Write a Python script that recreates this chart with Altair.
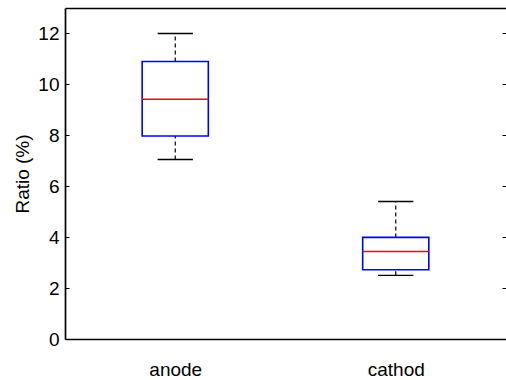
import altair as alt
import pandas as pd

categories = ["anode", "cathod"]
positions = [1, 2]
whisker_low = [7.05, 2.50]
q1 = [7.97, 2.72]
median = [9.42, 3.44]
q3 = [10.90, 3.99]
whisker_high = [12.0, 5.40]

y_ticks = [0, 2, 4, 6, 8, 10, 12]

df = pd.DataFrame({
    "cat": categories,
    "pos": positions,
    "lo": whisker_low,
    "q1": q1,
    "med": median,
    "q3": q3,
    "hi": whisker_high,
})

FONT = "Liberation Sans"
FS = 19
label_expr = " : ".join(
    [f"datum.value == {p} ? '{c}'" for p, c in zip(positions, categories)] + ["''"]
)

xscale = alt.Scale(domain=[0.5, 2.5], nice=False, zero=False)
yscale = alt.Scale(domain=[0, 13], nice=False)

base = alt.Chart(df).transform_calculate(
    bx1="datum.pos - 0.15", bx2="datum.pos + 0.15",
    cx1="datum.pos - 0.08", cx2="datum.pos + 0.08",
)

# box (bottom x axis with labels, left y axis with labels)
box = base.mark_rect(fill="white", stroke="#0000ff", strokeWidth=1.6).encode(
    x=alt.X("bx1:Q", scale=xscale, axis=alt.Axis(
        orient="bottom", values=positions, labelExpr=label_expr, title=None,
        ticks=False, grid=False, domain=True, domainColor="black", domainWidth=1.7,
        labelFont=FONT, labelFontSize=FS, labelColor="black", labelPadding=21,
    )),
    x2="bx2:Q",
    y=alt.Y("q1:Q", scale=yscale, axis=alt.Axis(
        orient="left", values=y_ticks, title="Ratio (%)", ticks=False, grid=False,
        domain=True, domainColor="black", domainWidth=1.7,
        labelFont=FONT, labelFontSize=FS, labelColor="black", labelPadding=6,
        titleFont=FONT, titleFontSize=FS, titleColor="black", titleFontWeight="normal",
        titlePadding=5,
    )),
    y2="q3:Q",
)

# median (top x axis as border, right y axis inward ticks)
med = base.mark_rule(color="#ff0000", strokeWidth=1.5).encode(
    x=alt.X("bx1:Q", scale=xscale, axis=alt.Axis(
        orient="top", labels=False, ticks=False, grid=False, title=None,
        domain=True, domainColor="black", domainWidth=1.7,
    )),
    x2="bx2:Q",
    y=alt.Y("med:Q", scale=yscale, axis=alt.Axis(
        orient="right", values=y_ticks, labels=False, domain=False, grid=False,
        ticks=True, tickSize=4, tickColor="black", tickWidth=1, offset=-4, title=None,
    )),
)

# whiskers dashed (left y axis inward ticks)
wh_hi = base.mark_rule(color="black", strokeDash=[4, 3], strokeWidth=1.2).encode(
    x=alt.X("pos:Q", scale=xscale, axis=None),
    y=alt.Y("q3:Q", scale=yscale, axis=alt.Axis(
        orient="left", values=y_ticks, labels=False, domain=False, grid=False,
        ticks=True, tickSize=4, tickColor="black", tickWidth=1, offset=-4, title=None,
    )),
    y2="hi:Q",
)
wh_lo = base.mark_rule(color="black", strokeDash=[4, 3], strokeWidth=1.2).encode(
    x=alt.X("pos:Q", scale=xscale, axis=None),
    y=alt.Y("lo:Q", scale=yscale, axis=None),
    y2="q1:Q",
)

cap_hi = base.mark_rule(color="black", strokeWidth=1.4).encode(
    x=alt.X("cx1:Q", scale=xscale, axis=None),
    x2="cx2:Q",
    y=alt.Y("hi:Q", scale=yscale, axis=None),
)
cap_lo = base.mark_rule(color="black", strokeWidth=1.4).encode(
    x=alt.X("cx1:Q", scale=xscale, axis=None),
    x2="cx2:Q",
    y=alt.Y("lo:Q", scale=yscale, axis=None),
)

chart = alt.layer(wh_hi, wh_lo, cap_hi, cap_lo, box, med).resolve_axis(
    x="independent", y="independent"
).resolve_scale(x="shared", y="shared").properties(
    width=441, height=331,
    autosize=alt.AutoSizeParams(type="none"),
    padding={"left": 65, "top": 8, "right": 0, "bottom": 41},
    background="white",
).configure_view(stroke=None)

chart.save("out.html", embed_options={"renderer": "svg", "actions": False})
